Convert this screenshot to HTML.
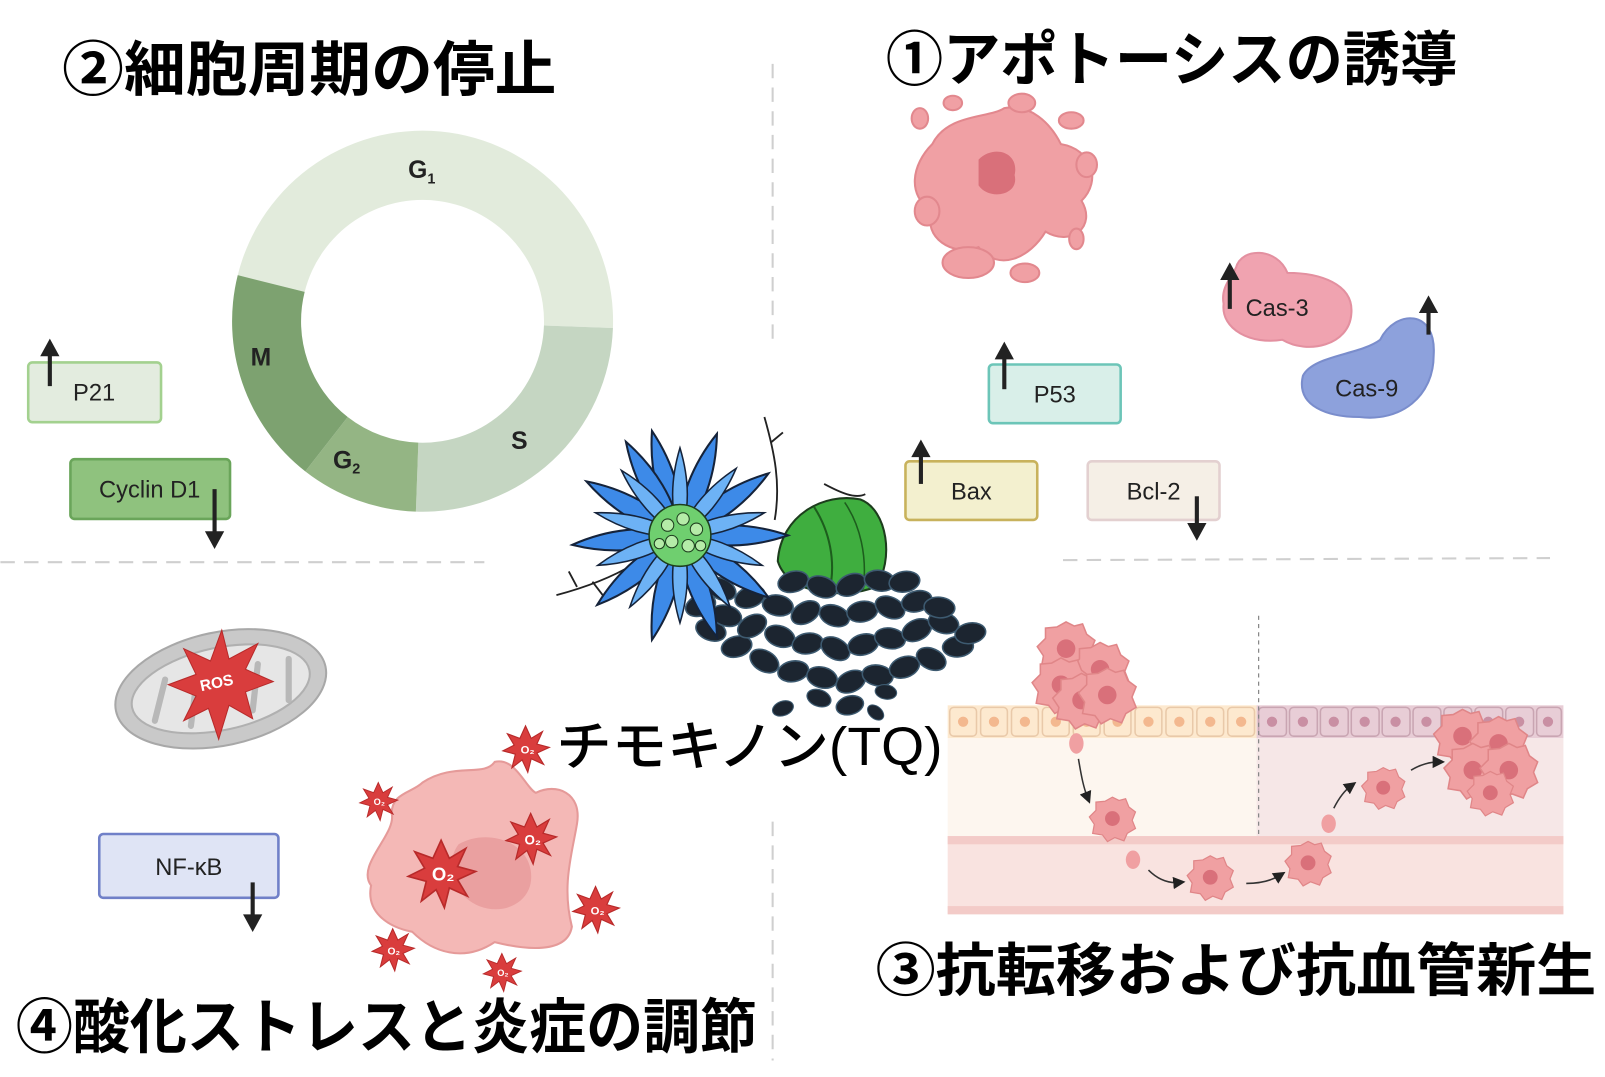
<!DOCTYPE html>
<html><head><meta charset="utf-8"><style>
html,body{margin:0;padding:0;background:#fff;overflow:hidden}
svg{display:block}
.t{font-family:"Liberation Sans","Noto Sans CJK JP",sans-serif;font-weight:bold;fill:#000}
.l{font-family:"Liberation Sans",sans-serif;fill:#222}
</style></head><body>
<svg width="1605" height="1077" viewBox="0 0 1558 1046" xmlns="http://www.w3.org/2000/svg">
<defs>
<marker id="ah" markerWidth="8" markerHeight="8" refX="4" refY="4" orient="auto"><path d="M0,0 L8,4 L0,8 z" fill="#222"/></marker>
<g id="star"><polygon points="0,-20 5,-9 15,-15 10,-4 21,-1 10,4 16,14 5,9 2,21 -3,10 -12,17 -9,5 -20,2 -10,-3 -16,-13 -5,-9" fill="#d93d3d" stroke="#b82a2a" stroke-width="1"/></g>
<g id="cell"><path d="M0,-26 L8,-22 L16,-24 L20,-14 L28,-8 L24,2 L28,12 L18,18 L14,27 L3,23 L-6,28 L-12,20 L-24,18 L-22,7 L-28,-2 L-20,-10 L-20,-20 L-9,-21z" fill="#f0a0a2" stroke="#e08688" stroke-width="1.5"/><circle r="9" fill="#d9707a"/></g>
<path id="petal" d="M0,0 C-14,-30 -12,-70 0,-105 C12,-70 14,-30 0,0Z" fill="#3d8ae8" stroke="#15233a" stroke-width="2"/>
<path id="petal2" d="M0,0 C-10,-25 -9,-55 0,-85 C9,-55 10,-25 0,0Z" fill="#6db2f5" stroke="#15233a" stroke-width="1.5"/>
<ellipse id="seed" rx="15" ry="10" fill="#1c2530" stroke="#3d5a70" stroke-width="1.5"/>
</defs>

<!-- dashed dividers -->
<g stroke="#cfcfcf" stroke-width="2" stroke-dasharray="14,9" fill="none">
<line x1="750" y1="62" x2="750" y2="330"/>
<line x1="750" y1="798" x2="750" y2="1030"/>
<line x1="0" y1="546" x2="470" y2="546"/>
<line x1="1032" y1="544" x2="1505" y2="542"/>
</g>

<!-- titles -->
<text class="t" x="60" y="88" font-size="58" textLength="480" lengthAdjust="spacingAndGlyphs">②細胞周期の停止</text>
<text class="t" x="860" y="78" font-size="58" textLength="555" lengthAdjust="spacingAndGlyphs">①アポトーシスの誘導</text>
<text class="t" x="850" y="962" font-size="56" textLength="700" lengthAdjust="spacingAndGlyphs">③抗転移および抗血管新生</text>
<text class="t" x="15" y="1018" font-size="58" textLength="720" lengthAdjust="spacingAndGlyphs">④酸化ストレスと炎症の調節</text>

<!-- cell cycle ring -->
<path d="M230.5,267.2 A185,185 0 0 1 594.9,318.5 L527.9,316.1 A118,118 0 0 0 295.5,283.5 Z" fill="#e2ebdc"/>
<path d="M594.9,318.5 A185,185 0 0 1 403.5,496.9 L405.9,429.9 A118,118 0 0 0 527.9,316.1 Z" fill="#c5d6c2"/>
<path d="M403.5,496.9 A185,185 0 0 1 296.1,457.8 L337.3,405 A118,118 0 0 0 405.9,429.9 Z" fill="#94b584"/>
<path d="M296.1,457.8 A185,185 0 0 1 230.5,267.2 L295.5,283.5 A118,118 0 0 0 337.3,405 Z" fill="#7da270"/>
<g class="l" font-weight="bold" font-size="24" fill="#222">
<text x="396" y="173">G<tspan font-size="14" dy="5">1</tspan></text>
<text x="496" y="436">S</text>
<text x="323" y="455">G<tspan font-size="14" dy="5">2</tspan></text>
<text x="243" y="355">M</text>
</g>

<!-- boxes -->
<g font-size="23" class="l" text-anchor="middle">
<rect x="27" y="352" width="129" height="58" rx="4" fill="#e3ecdf" stroke="#a3d18f" stroke-width="2.5"/><text x="91" y="389">P21</text>
<rect x="68" y="446" width="155" height="58" rx="4" fill="#8fc27e" stroke="#6aa55a" stroke-width="2.5"/><text x="145" y="483">Cyclin D1</text>
<rect x="960" y="354" width="128" height="57" rx="4" fill="#d9efe9" stroke="#6cc5b8" stroke-width="2.5"/><text x="1024" y="391">P53</text>
<rect x="879" y="448" width="128" height="57" rx="4" fill="#f3f0cf" stroke="#c8b25c" stroke-width="2.5"/><text x="943" y="485">Bax</text>
<rect x="1056" y="448" width="128" height="57" rx="4" fill="#f5efe6" stroke="#e3d0d0" stroke-width="2.5"/><text x="1120" y="485">Bcl-2</text>
<rect x="96" y="810" width="174" height="62" rx="4" fill="#dfe4f5" stroke="#7080c8" stroke-width="2.5"/><text x="183" y="850">NF-κB</text>
</g>

<!-- apoptotic cell -->
<g fill="#f0a0a4" stroke="#e2888e" stroke-width="2">
<path d="M905,140 C920,110 960,115 975,105 C1000,100 1020,120 1030,140 C1060,145 1070,175 1050,195 C1065,220 1040,240 1015,225 C1000,250 970,265 950,240 C925,250 895,230 905,205 C880,190 885,160 905,140Z"/>
<ellipse cx="992" cy="100" rx="13" ry="9"/><ellipse cx="1040" cy="117" rx="12" ry="8"/><ellipse cx="893" cy="115" rx="8" ry="10"/><ellipse cx="1055" cy="160" rx="10" ry="12"/>
<ellipse cx="940" cy="255" rx="25" ry="15"/><ellipse cx="995" cy="265" rx="14" ry="9"/><ellipse cx="900" cy="205" rx="12" ry="14"/><ellipse cx="1045" cy="232" rx="7" ry="10"/><ellipse cx="925" cy="100" rx="9" ry="7"/>
</g>
<path d="M950,155 C965,140 990,148 985,170 C990,190 960,195 950,180Z" fill="#d9707a"/>
<!-- Cas-3 / Cas-9 -->
<path d="M1200,260 C1205,240 1240,240 1250,265 C1280,265 1315,275 1312,305 C1310,335 1270,345 1245,330 C1215,335 1185,320 1188,295 C1185,280 1195,270 1200,260Z" fill="#f0a3b0" stroke="#e390a0" stroke-width="2"/>
<text x="1240" y="307" class="l" font-size="23" text-anchor="middle">Cas-3</text>
<path d="M1265,365 C1275,345 1320,345 1340,330 C1355,300 1395,300 1392,345 C1392,385 1360,410 1320,405 C1290,405 1258,395 1265,365Z" fill="#8da1dc" stroke="#7a8dcc" stroke-width="2"/>
<text x="1327" y="385" class="l" font-size="23" text-anchor="middle">Cas-9</text>

<!-- up/down arrows -->
<g stroke="#222" stroke-width="4" fill="#222">
<line x1="48" y1="375" x2="48" y2="342"/><polygon points="42,344 48,333 54,344"/>
<line x1="975" y1="378" x2="975" y2="345"/><polygon points="969,347 975,336 981,347"/>
<line x1="894" y1="470" x2="894" y2="440"/><polygon points="888,442 894,431 900,442"/>
<line x1="1194" y1="300" x2="1194" y2="268"/><polygon points="1188,270 1194,259 1200,270"/>
<line x1="1387" y1="325" x2="1387" y2="300"/><polygon points="1381,302 1387,291 1393,302"/>
<line x1="208" y1="475" x2="208" y2="520"/><polygon points="202,518 208,529 214,518"/>
<line x1="1162" y1="482" x2="1162" y2="512"/><polygon points="1156,510 1162,521 1168,510"/>
<line x1="245" y1="857" x2="245" y2="892"/><polygon points="239,890 245,901 251,890"/>
</g>

<!-- mitochondrion -->
<ellipse cx="214" cy="669" rx="104" ry="55" transform="rotate(-12 214 669)" fill="#c9c9c9" stroke="#a8a8a8" stroke-width="2"/>
<ellipse cx="214" cy="669" rx="88" ry="40" transform="rotate(-12 214 669)" fill="#e6e6e6" stroke="#b0b0b0" stroke-width="2"/>
<g stroke="#b8b8b8" stroke-width="6" stroke-linecap="round"><line x1="150" y1="700" x2="160" y2="660"/><line x1="185" y1="705" x2="190" y2="665"/><line x1="250" y1="645" x2="245" y2="690"/><line x1="280" y1="640" x2="280" y2="680"/></g>
<polygon points="215,612 222,640 250,625 238,650 265,662 238,672 245,698 222,685 212,718 202,688 178,700 190,676 163,665 190,655 178,630 204,642" fill="#d93d3d" stroke="#b82a2a"/>
<text x="211" y="668" font-family="Liberation Sans" font-weight="bold" font-size="15" fill="#fff" text-anchor="middle" transform="rotate(-12 211 668)">ROS</text>

<!-- pink cell -->
<path d="M410,760 C440,740 470,755 480,740 C500,735 510,765 520,770 C540,760 565,770 560,800 C555,830 545,860 555,900 C550,930 500,920 480,915 C450,935 420,925 400,905 C375,900 355,885 360,860 C345,840 385,810 380,790 C380,770 400,770 410,760Z" fill="#f4b8b6" stroke="#e59a99" stroke-width="2"/>
<path d="M445,820 C470,805 510,815 515,845 C520,875 490,890 465,880 C440,870 430,840 445,820Z" fill="#eaa0a0"/>
<g font-family="Liberation Sans" font-weight="bold" fill="#fff" text-anchor="middle">
<use href="#star" transform="translate(428,848) scale(1.6)"/><text x="430" y="855" font-size="18">O₂</text>
<use href="#star" transform="translate(515,814) scale(1.2)"/><text x="517" y="820" font-size="13">O₂</text>
<use href="#star" transform="translate(510,727) scale(1.1)"/><text x="512" y="732" font-size="11">O₂</text>
<use href="#star" transform="translate(367,778) scale(0.9)"/><text x="368" y="782" font-size="9">O₂</text>
<use href="#star" transform="translate(578,883) scale(1.1)"/><text x="580" y="888" font-size="11">O₂</text>
<use href="#star" transform="translate(381,922) scale(1)"/><text x="382" y="927" font-size="10">O₂</text>
<use href="#star" transform="translate(487,944) scale(0.9)"/><text x="488" y="948" font-size="9">O₂</text>
</g>

<!-- plant stems -->
<g stroke="#222" stroke-width="1.8" fill="none">
<path d="M742,405 C752,440 758,470 752,505"/><path d="M748,430 L760,420"/>
<path d="M540,578 C570,570 595,560 615,548"/><path d="M560,570 L552,555"/><path d="M575,565 L585,578"/>
<path d="M800,470 C815,478 830,485 840,480"/>
</g>
<!-- green pod -->
<path d="M755,545 C758,500 800,478 835,485 C862,495 868,545 850,570 C820,582 765,578 755,545Z" fill="#3fae3f" stroke="#1d3d1d" stroke-width="2"/>
<path d="M790,492 C805,515 812,545 805,575" stroke="#1d5d1d" stroke-width="2" fill="none"/>
<path d="M820,488 C835,510 842,540 838,572" stroke="#1d5d1d" stroke-width="1.5" fill="none"/>
<!-- seeds -->
<g>
<use href="#seed" transform="translate(690,612) rotate(20)"/><use href="#seed" transform="translate(715,628) rotate(-15)"/><use href="#seed" transform="translate(742,642) rotate(30)"/><use href="#seed" transform="translate(770,652) rotate(-10)"/><use href="#seed" transform="translate(798,658) rotate(15)"/><use href="#seed" transform="translate(826,662) rotate(-25)"/><use href="#seed" transform="translate(852,656) rotate(10)"/><use href="#seed" transform="translate(878,648) rotate(-20)"/><use href="#seed" transform="translate(904,640) rotate(25)"/><use href="#seed" transform="translate(930,628) rotate(-5)"/>
<use href="#seed" transform="translate(680,588) rotate(-20)"/><use href="#seed" transform="translate(705,598) rotate(15)"/><use href="#seed" transform="translate(730,608) rotate(-30)"/><use href="#seed" transform="translate(757,618) rotate(20)"/><use href="#seed" transform="translate(784,625) rotate(-10)"/><use href="#seed" transform="translate(811,630) rotate(30)"/><use href="#seed" transform="translate(838,626) rotate(-15)"/><use href="#seed" transform="translate(864,620) rotate(10)"/><use href="#seed" transform="translate(890,612) rotate(-25)"/><use href="#seed" transform="translate(916,605) rotate(15)"/><use href="#seed" transform="translate(942,615) rotate(-10)"/>
<use href="#seed" transform="translate(700,572) rotate(25)"/><use href="#seed" transform="translate(728,580) rotate(-20)"/><use href="#seed" transform="translate(755,588) rotate(10)"/><use href="#seed" transform="translate(782,595) rotate(-30)"/><use href="#seed" transform="translate(810,598) rotate(20)"/><use href="#seed" transform="translate(837,594) rotate(-10)"/><use href="#seed" transform="translate(864,590) rotate(25)"/><use href="#seed" transform="translate(890,584) rotate(-15)"/><use href="#seed" transform="translate(912,590) rotate(5)"/>
<use href="#seed" transform="translate(770,565) rotate(-15)"/><use href="#seed" transform="translate(798,570) rotate(20)"/><use href="#seed" transform="translate(826,568) rotate(-25)"/><use href="#seed" transform="translate(854,564) rotate(10)"/><use href="#seed" transform="translate(878,565) rotate(-10)"/>
<use href="#seed" transform="translate(795,678) rotate(20) scale(0.8)"/><use href="#seed" transform="translate(825,685) rotate(-15) scale(0.9)"/><use href="#seed" transform="translate(860,672) rotate(10) scale(0.7)"/><use href="#seed" transform="translate(760,688) rotate(-20) scale(0.7)"/><use href="#seed" transform="translate(850,692) rotate(40) scale(0.6)"/>
</g>
<!-- blue flower -->
<g transform="translate(660,520)">
<use href="#petal" transform="rotate(-15)"/><use href="#petal" transform="rotate(20)"/><use href="#petal" transform="rotate(55)"/><use href="#petal" transform="rotate(90)"/><use href="#petal" transform="rotate(125)"/><use href="#petal" transform="rotate(160)"/><use href="#petal" transform="rotate(195)"/><use href="#petal" transform="rotate(230)"/><use href="#petal" transform="rotate(265)"/><use href="#petal" transform="rotate(300)"/><use href="#petal" transform="rotate(330)"/>
<use href="#petal2" transform="rotate(0)"/><use href="#petal2" transform="rotate(40)"/><use href="#petal2" transform="rotate(75)"/><use href="#petal2" transform="rotate(110)"/><use href="#petal2" transform="rotate(145)"/><use href="#petal2" transform="rotate(180)"/><use href="#petal2" transform="rotate(215)"/><use href="#petal2" transform="rotate(250)"/><use href="#petal2" transform="rotate(285)"/><use href="#petal2" transform="rotate(318)"/>
<circle r="30" fill="#6fcf6f" stroke="#1d3d1d" stroke-width="1.5"/>
<g fill="#b5eca8" stroke="#1d3d1d" stroke-width="1"><circle cx="-12" cy="-10" r="6"/><circle cx="3" cy="-16" r="6"/><circle cx="16" cy="-6" r="6"/><circle cx="-8" cy="6" r="6"/><circle cx="8" cy="10" r="6"/><circle cx="-20" cy="8" r="5"/><circle cx="20" cy="10" r="5"/></g>
</g>

<text class="t" x="540" y="743" font-size="52" textLength="375" lengthAdjust="spacingAndGlyphs" style="font-weight:500">チモキノン(TQ)</text>

<!-- metastasis panel -->
<rect x="920" y="685" width="300" height="32" fill="#fde9cf"/>
<rect x="1220" y="685" width="298" height="32" fill="#e8cdd6"/>
<g stroke="#e9c9a9" stroke-width="1.5" fill="none">
<rect x="922" y="687" width="26" height="28" rx="4"/><rect x="952" y="687" width="26" height="28" rx="4"/><rect x="982" y="687" width="26" height="28" rx="4"/><rect x="1012" y="687" width="26" height="28" rx="4"/><rect x="1042" y="687" width="26" height="28" rx="4"/><rect x="1072" y="687" width="26" height="28" rx="4"/><rect x="1102" y="687" width="26" height="28" rx="4"/><rect x="1132" y="687" width="26" height="28" rx="4"/><rect x="1162" y="687" width="26" height="28" rx="4"/><rect x="1192" y="687" width="26" height="28" rx="4"/>
</g>
<g stroke="#c9a5b2" stroke-width="1.5" fill="none">
<rect x="1222" y="687" width="27" height="28" rx="4"/><rect x="1252" y="687" width="27" height="28" rx="4"/><rect x="1282" y="687" width="27" height="28" rx="4"/><rect x="1312" y="687" width="27" height="28" rx="4"/><rect x="1342" y="687" width="27" height="28" rx="4"/><rect x="1372" y="687" width="27" height="28" rx="4"/><rect x="1402" y="687" width="27" height="28" rx="4"/><rect x="1432" y="687" width="27" height="28" rx="4"/><rect x="1462" y="687" width="27" height="28" rx="4"/><rect x="1492" y="687" width="24" height="28" rx="4"/>
</g>
<g fill="#f3b88f"><circle cx="935" cy="701" r="5"/><circle cx="965" cy="701" r="5"/><circle cx="995" cy="701" r="5"/><circle cx="1025" cy="701" r="5"/><circle cx="1055" cy="701" r="5"/><circle cx="1085" cy="701" r="5"/><circle cx="1115" cy="701" r="5"/><circle cx="1145" cy="701" r="5"/><circle cx="1175" cy="701" r="5"/><circle cx="1205" cy="701" r="5"/></g>
<g fill="#c98fa3"><circle cx="1235" cy="701" r="5"/><circle cx="1265" cy="701" r="5"/><circle cx="1295" cy="701" r="5"/><circle cx="1325" cy="701" r="5"/><circle cx="1355" cy="701" r="5"/><circle cx="1385" cy="701" r="5"/><circle cx="1415" cy="701" r="5"/><circle cx="1445" cy="701" r="5"/><circle cx="1475" cy="701" r="5"/><circle cx="1503" cy="701" r="5"/></g>
<rect x="920" y="717" width="300" height="95" fill="#fdf6ef"/>
<rect x="1220" y="717" width="298" height="95" fill="#f6e7e7"/>
<rect x="920" y="812" width="598" height="76" fill="#f9e3e0"/>
<rect x="920" y="812" width="598" height="8" fill="#f3cbc8"/>
<rect x="920" y="880" width="598" height="8" fill="#f3cbc8"/>
<line x1="1222" y1="598" x2="1222" y2="810" stroke="#888" stroke-width="1.2" stroke-dasharray="4,4"/>
<g>
<use href="#cell" transform="translate(1035,630)"/><use href="#cell" transform="translate(1068,650)"/><use href="#cell" transform="translate(1030,665)"/><use href="#cell" transform="translate(1050,680)"/><use href="#cell" transform="translate(1075,675)"/>
<ellipse cx="1045" cy="722" rx="7" ry="10" fill="#f0a0a2"/>
<use href="#cell" transform="translate(1080,795) scale(0.8)"/>
<ellipse cx="1100" cy="835" rx="7" ry="9" fill="#f0a0a2"/>
<use href="#cell" transform="translate(1175,852) scale(0.8)"/>
<use href="#cell" transform="translate(1270,838) scale(0.8)"/>
<ellipse cx="1290" cy="800" rx="7" ry="9" fill="#f0a0a2"/>
<use href="#cell" transform="translate(1343,765) scale(0.75)"/>
<use href="#cell" transform="translate(1420,715)"/><use href="#cell" transform="translate(1455,722)"/><use href="#cell" transform="translate(1430,748)"/><use href="#cell" transform="translate(1465,748)"/><use href="#cell" transform="translate(1447,770) scale(0.8)"/>
</g>
<g stroke="#333" stroke-width="1.5" fill="none" marker-end="url(#ah)">
<path d="M1047,737 C1050,755 1052,765 1056,775"/>
<path d="M1115,845 C1125,855 1135,858 1145,857"/>
<path d="M1210,858 C1225,858 1235,855 1243,850"/>
<path d="M1295,785 C1300,775 1305,768 1312,763"/>
<path d="M1370,748 C1380,742 1388,740 1397,740"/>
</g>
</svg>
</body></html>
